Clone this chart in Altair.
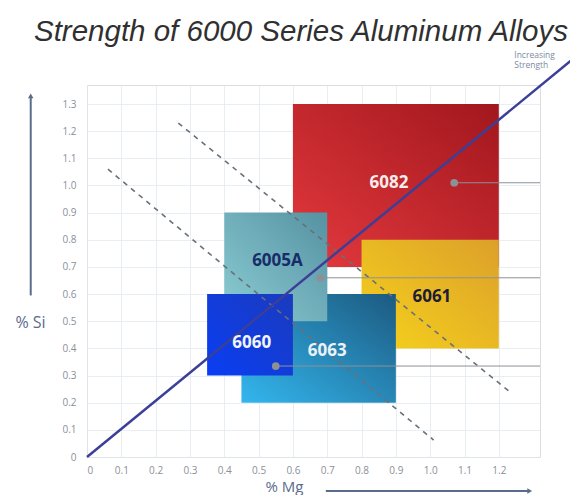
import altair as alt
import pandas as pd

# ---- data ----
alloys = ["6082", "6061", "6063", "6005A", "6060"]
mg_min = [0.60, 0.80, 0.45, 0.40, 0.35]
mg_max = [1.20, 1.20, 0.90, 0.70, 0.60]
si_min = [0.70, 0.40, 0.20, 0.50, 0.30]
si_max = [1.30, 0.80, 0.60, 0.90, 0.60]
grad_start = ["#e4393e", "#f6d21c", "#33b6ee", "#8ccdd4", "#0a3ef4"]
grad_end = ["#a1171d", "#dca02a", "#1c5a80", "#5592a2", "#1b3bbd"]

label_text = ["6082", "6061", "6063", "6005A", "6060"]
label_mg = [0.88, 1.005, 0.70, 0.555, 0.48]
label_si = [1.01, 0.59, 0.39, 0.72, 0.42]
label_color = ["#f6ecec", "#1d1d35", "#eaf2fa", "#182c6a", "#f0f4ff"]

dot_mg = [1.07, 0.68, 0.55]
dot_si = [1.01, 0.66, 0.335]
dot_end = [1.32, 1.32, 1.32]

strength_mg = [0.0, 1.43]
strength_si = [0.0, 1.48]

dash_mg_start = [0.061, 0.266]
dash_si_start = [1.06, 1.23]
dash_mg_end = [1.01, 1.237]
dash_si_end = [0.0625, 0.235]

note_text = ["Increasing", "Strength"]
note_mg = [1.245, 1.245]
note_si = [1.482, 1.445]

title_text = "Strength of 6000 Series Aluminum Alloys"

x_ticks = [round(0.1 * i, 1) for i in range(13)]
y_ticks = [round(0.1 * i, 1) for i in range(14)]

# ---- tables ----
boxes = pd.DataFrame(dict(alloy=alloys, mg_min=mg_min, mg_max=mg_max,
                          si_min=si_min, si_max=si_max))
labels = pd.DataFrame(dict(t=label_text, mg=label_mg, si=label_si, c=label_color))
dots = pd.DataFrame(dict(mg=dot_mg, si=dot_si, end=dot_end))
strength = pd.DataFrame(dict(mg=[strength_mg[0]], si=[strength_si[0]],
                             mg2=[strength_mg[1]], si2=[strength_si[1]]))
dashes = pd.DataFrame(dict(mg=dash_mg_start, si=dash_si_start,
                           mg2=dash_mg_end, si2=dash_si_end))
notes = pd.DataFrame(dict(t=note_text, mg=note_mg, si=note_si))
yarrow = pd.DataFrame(dict(mg=[-0.164], si=[0.595], si2=[1.33]))
xarrow = pd.DataFrame(dict(mg=[0.696], mg2=[1.29], si=[-0.125]))
titles = pd.DataFrame(dict(t=[title_text]))

xs = alt.Scale(domain=[0, 1.32], nice=False, zero=False)
ys = alt.Scale(domain=[0, 1.37], nice=False, zero=False)
LBL = "datum.value == 0 ? '0' : format(datum.value, '.1f')"

X_AX = alt.Axis(values=x_ticks, labelExpr=LBL, title="% Mg", ticks=False, domain=False,
                grid=True, gridColor="#e0e6ee", gridWidth=0.7,
                labelColor="#8a9099", labelFontSize=10, labelFont="Open Sans",
                labelPadding=8, titleAngle=0, titleX=197, titleY=29,
                titleAlign="center", titleBaseline="middle", titleFont="Open Sans",
                titleFontSize=15, titleFontWeight="normal", titleColor="#5a6c8c")
Y_AX = alt.Axis(values=y_ticks, labelExpr=LBL, title="% Si", ticks=False, domain=False,
                grid=True, gridColor="#e0e6ee", gridWidth=0.7,
                labelColor="#8a9099", labelFontSize=10, labelFont="Open Sans",
                labelPadding=11, titleAngle=0, titleX=-57, titleY=237,
                titleAlign="center", titleBaseline="middle", titleFont="Open Sans",
                titleFontSize=16, titleFontWeight="normal", titleColor="#5a6c8c")


def X(f):
    return alt.X(f, type="quantitative", scale=xs, axis=X_AX)


def Y(f):
    return alt.Y(f, type="quantitative", scale=ys, axis=Y_AX)


layers = []
for i, a in enumerate(alloys):
    grad = alt.LinearGradient(
        gradient="linear",
        stops=[alt.GradientStop(color=grad_start[i], offset=0),
               alt.GradientStop(color=grad_end[i], offset=1)],
        x1=0, y1=1, x2=1, y2=0)
    layers.append(
        alt.Chart(boxes).transform_filter(alt.datum.alloy == a)
        .mark_rect(color=grad)
        .encode(x=X("mg_min"), x2="mg_max", y=Y("si_min"), y2="si_max")
    )

dash_layer = alt.Chart(dashes).mark_rule(color="#6a7078", strokeWidth=1.6,
                                         strokeDash=[5, 5]).encode(
    x=X("mg"), y=Y("si"), x2="mg2", y2="si2")

strength_layer = alt.Chart(strength).mark_rule(color="#3c3f98", strokeWidth=2.5).encode(
    x=X("mg"), y=Y("si"), x2="mg2", y2="si2")

dot_lines = alt.Chart(dots).mark_rule(color="#8d9196", strokeWidth=1).encode(
    x=X("mg"), x2="end", y=Y("si"))
dot_pts = alt.Chart(dots).mark_point(filled=True, color="#8d9196", size=60, opacity=1).encode(
    x=X("mg"), y=Y("si"))

text_layer = alt.Chart(labels).mark_text(font="Open Sans", fontSize=17,
                                         fontWeight="bold").encode(
    x=X("mg"), y=Y("si"), text="t", color=alt.Color("c:N", scale=None))

note_layer = alt.Chart(notes).mark_text(font="Open Sans", fontSize=8.5, align="left",
                                        color="#7d8aa3").encode(
    x=X("mg"), y=Y("si"), text="t")

title_layer = alt.Chart(titles).mark_text(font="Liberation Sans", fontSize=29.5,
                                          fontStyle="italic", color="#303030",
                                          align="center", baseline="middle").encode(
    x=alt.value(214), y=alt.value(-53), text="t")

yarrow_line = alt.Chart(yarrow).mark_rule(color="#5a6c8c", strokeWidth=2).encode(
    x=X("mg"), y=Y("si"), y2="si2")
yarrow_head = alt.Chart(yarrow).mark_point(shape="triangle-up", filled=True,
                                           color="#5a6c8c", size=30, opacity=1).encode(
    x=X("mg"), y=Y("si2"))
xarrow_line = alt.Chart(xarrow).mark_rule(color="#5a6c8c", strokeWidth=2).encode(
    x=X("mg"), x2="mg2", y=Y("si"))
xarrow_head = alt.Chart(xarrow).mark_point(shape="triangle-right", filled=True,
                                           color="#5a6c8c", size=30, opacity=1).encode(
    x=X("mg2"), y=Y("si"))

chart = alt.layer(
    *layers, dash_layer, strength_layer, dot_lines, dot_pts, text_layer, note_layer,
    title_layer, yarrow_line, yarrow_head, xarrow_line, xarrow_head
).properties(
    width=453, height=372,
    autosize=alt.AutoSizeParams(type="none"),
    padding={"left": 79, "top": 77, "right": 30, "bottom": 38},
).configure_view(fill="#eaf0f7", stroke="#9ea7b4", strokeWidth=1.5
).configure(background="white")

chart.save("out.html", embed_options={"renderer": "svg", "actions": False})
